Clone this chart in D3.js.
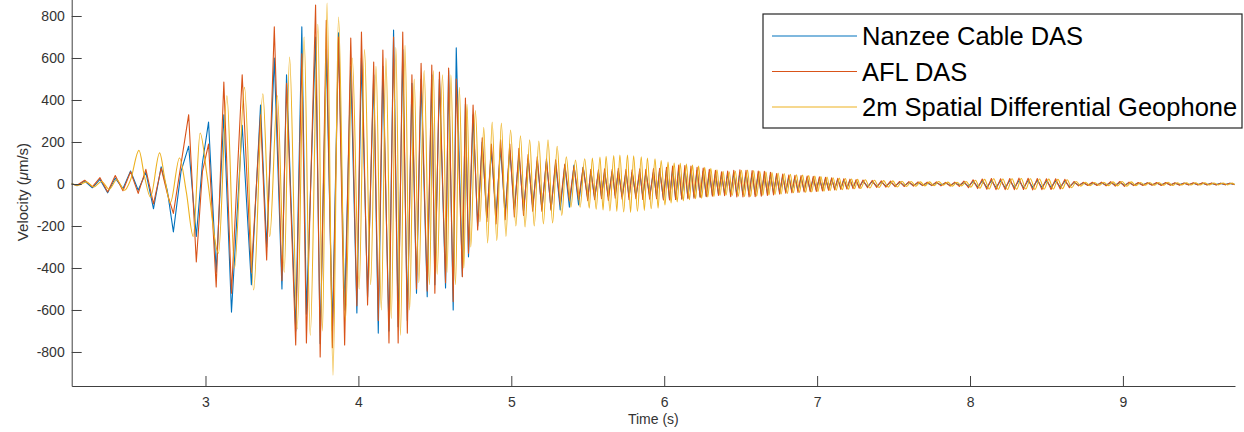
<!DOCTYPE html>
<html>
<head>
<meta charset="utf-8">
<title>DAS vs geophone velocity</title>
<script src="https://d3js.org/d3.v7.min.js"></script>
<style>
  body { margin: 0; background: #fff; }
  text { font-family: "Liberation Sans", Arial, Helvetica, sans-serif; }
</style>
</head>
<body>
<script>
// extrema of the traces (time in s, velocity in um/s)
// the two DAS traces share one time base, the geophone has its own
const timeDas = [
  2.12, 2.16, 2.21, 2.26, 2.31, 2.36, 2.41, 2.46, 2.51, 2.56,
  2.61, 2.66, 2.71, 2.75, 2.79, 2.84, 2.89, 2.94, 2.98, 3.02,
  3.07, 3.12, 3.17, 3.24, 3.30, 3.36, 3.40, 3.45, 3.50, 3.53,
  3.59, 3.63, 3.66, 3.72, 3.75, 3.79, 3.83, 3.87, 3.91, 3.95,
  3.99, 4.02, 4.06, 4.10, 4.13, 4.16, 4.20, 4.23, 4.26, 4.29,
  4.32, 4.35, 4.38, 4.41, 4.45, 4.48, 4.50, 4.53, 4.57, 4.59,
  4.62, 4.64, 4.68, 4.70, 4.72, 4.75, 4.78, 4.81, 4.84, 4.87,
  4.90, 4.93, 4.96, 4.99, 5.02, 5.05, 5.08, 5.11, 5.14, 5.17,
  5.20, 5.23, 5.26, 5.29, 5.32, 5.35, 5.38, 5.41, 5.44, 5.47,
  5.50, 5.52, 5.545, 5.57, 5.59, 5.61, 5.635, 5.66, 5.68, 5.70,
  5.725, 5.75, 5.77, 5.79, 5.815, 5.84, 5.86, 5.88, 5.905, 5.93,
  5.95, 5.97, 5.995, 6.015, 6.035, 6.055, 6.075, 6.095, 6.115, 6.135,
  6.155, 6.175, 6.195, 6.215, 6.235, 6.255, 6.275, 6.295, 6.315, 6.335,
  6.355, 6.375, 6.395, 6.415, 6.435, 6.455, 6.475, 6.495, 6.515, 6.535,
  6.555, 6.575, 6.595, 6.615, 6.635, 6.655, 6.675, 6.695, 6.715, 6.735,
  6.755, 6.775, 6.795, 6.815, 6.835, 6.855, 6.875, 6.895, 6.915, 6.935,
  6.955, 6.975, 6.995, 7.015, 7.035, 7.055, 7.075, 7.095, 7.115, 7.135,
  7.155, 7.175, 7.195, 7.215, 7.235, 7.255, 7.275, 7.30, 7.33, 7.36,
  7.39, 7.42, 7.45, 7.48, 7.51, 7.54, 7.57, 7.60, 7.63, 7.66,
  7.69, 7.72, 7.75, 7.78, 7.81, 7.84, 7.87, 7.90, 7.93, 7.96,
  7.99, 8.02, 8.05, 8.08, 8.11, 8.14, 8.17, 8.20, 8.23, 8.26,
  8.29, 8.32, 8.35, 8.38, 8.41, 8.44, 8.47, 8.50, 8.53, 8.56,
  8.59, 8.62, 8.65, 8.68, 8.71, 8.74, 8.77, 8.80, 8.83, 8.86,
  8.89, 8.92, 8.95, 8.98, 9.01, 9.04, 9.07, 9.10, 9.13, 9.16,
  9.19, 9.22, 9.25, 9.28, 9.31, 9.34, 9.37, 9.40, 9.43, 9.46,
  9.49, 9.52, 9.55, 9.58, 9.61, 9.64, 9.67, 9.70, 9.73
];

const timeGeo = [
  2.12, 2.17, 2.22, 2.27, 2.32, 2.37, 2.42, 2.47, 2.51, 2.565,
  2.60, 2.64, 2.70, 2.735, 2.77, 2.83, 2.875, 2.92, 2.965, 3.01,
  3.085, 3.14, 3.19, 3.255, 3.315, 3.375, 3.42, 3.47, 3.515, 3.55,
  3.60, 3.645, 3.685, 3.735, 3.765, 3.795, 3.834, 3.87, 3.915, 3.96,
  4.005, 4.04, 4.08, 4.115, 4.15, 4.18, 4.215, 4.245, 4.275, 4.305,
  4.335, 4.365, 4.395, 4.43, 4.465, 4.49, 4.515, 4.55, 4.58, 4.605,
  4.635, 4.66, 4.69, 4.71, 4.735, 4.765, 4.795, 4.82, 4.845, 4.875,
  4.905, 4.935, 4.965, 4.995, 5.03, 5.06, 5.09, 5.12, 5.15, 5.18,
  5.21, 5.24, 5.27, 5.30, 5.33, 5.36, 5.39, 5.42, 5.45, 5.48,
  5.51, 5.53, 5.555, 5.58, 5.60, 5.62, 5.645, 5.67, 5.69, 5.71,
  5.735, 5.76, 5.78, 5.80, 5.825, 5.85, 5.87, 5.89, 5.915, 5.94,
  5.96, 5.98, 6.005, 6.025, 6.045, 6.065, 6.085, 6.105, 6.125, 6.145,
  6.165, 6.185, 6.205, 6.225, 6.245, 6.265, 6.285, 6.305, 6.325, 6.345,
  6.365, 6.385, 6.405, 6.425, 6.445, 6.465, 6.485, 6.505, 6.525, 6.545,
  6.565, 6.585, 6.605, 6.625, 6.645, 6.665, 6.685, 6.705, 6.725, 6.745,
  6.765, 6.785, 6.805, 6.825, 6.845, 6.865, 6.885, 6.905, 6.925, 6.945,
  6.965, 6.985, 7.005, 7.025, 7.045, 7.065, 7.085, 7.105, 7.125, 7.145,
  7.165, 7.185, 7.205, 7.225, 7.245, 7.265, 7.285, 7.315, 7.345, 7.375,
  7.405, 7.435, 7.465, 7.495, 7.525, 7.555, 7.585, 7.615, 7.645, 7.675,
  7.705, 7.735, 7.765, 7.795, 7.825, 7.855, 7.885, 7.915, 7.945, 7.975,
  8.005, 8.035, 8.065, 8.095, 8.125, 8.155, 8.185, 8.215, 8.245, 8.275,
  8.305, 8.335, 8.365, 8.395, 8.425, 8.455, 8.485, 8.515, 8.545, 8.575,
  8.605, 8.635, 8.665, 8.695, 8.725, 8.755, 8.785, 8.815, 8.845, 8.875,
  8.905, 8.935, 8.965, 8.995, 9.025, 9.055, 9.085, 9.115, 9.145, 9.175,
  9.205, 9.235, 9.265, 9.295, 9.325, 9.355, 9.385, 9.415, 9.445, 9.475,
  9.505, 9.535, 9.565, 9.595, 9.625, 9.655, 9.685, 9.715, 9.73
];

const nanzee = [
  4, -8, 14, -18, 22, -42, 28, -22, 62, -30,
  55, -118, 82, -30, -228, 60, 180, -250, 100, 295,
  -420, 330, -610, 280, -480, 376, -300, 600, -500, 520,
  -700, 748, -620, 700, -760, 640, -700, 720, -600, 560,
  -614, 600, -540, 520, -710, 560, -700, 733, -680, 640,
  -650, 480, -520, 500, -537, 520, -480, 500, -495, 540,
  -600, 648, -440, 380, -347, 330, -200, 200, -160, 160,
  -150, 170, -140, 160, -120, 140, -130, 120, -110, 110,
  -120, 110, -120, 100, -124, 90, -110, 90, -100, 80,
  -70, 60, -65, 55, -60, 58, -62, 60, -55, 62,
  -60, 58, -62, 55, -58, 56, -60, 55, -57, 58,
  -62, 65, -70, 68, -72, 70, -74, 72, -70, 70,
  -65, 68, -62, 65, -60, 62, -58, 55, -52, 50,
  -48, 45, -46, 50, -50, 55, -52, 55, -50, 52,
  -52, 50, -50, 48, -48, 46, -45, 44, -42, 42,
  -40, 38, -36, 35, -34, 33, -32, 32, -30, 30,
  -30, 28, -28, 27, -26, 25, -24, 23, -22, 22,
  -20, 20, -19, 18, -17, 16, -15, 14, -13, 12,
  -11, 10, -10, 9, -9, 8, -8, 7, -7, 6,
  -6, 5, -6, 6, -5, 5, -6, 5, -5, 6,
  -10, 12, -14, 15, -16, 16, -17, 16, -18, 17,
  -17, 16, -18, 17, -16, 17, -16, 15, -16, 15,
  -15, 14, -12, 8, -6, 5, -5, 4, -4, 5,
  -5, 6, -5, 7, -6, 6, -5, 4, -4, 5,
  -4, 4, -4, 5, -4, 4, -3, 4, -3, 4,
  -3, 4, -3, 3, -3, 3, -3, 3, -2
];

const afl = [
  0, -6, 18, -14, 30, -38, 40, -32, 58, -45,
  70, -95, 75, -45, -140, 95, 330, -371, 60, 190,
  -490, 486, -520, 520, -420, 330, -362, 748, -460, 480,
  -767, 620, -757, 852, -824, 780, -780, 700, -767, 695,
  -580, 724, -576, 581, -650, 638, -757, 700, -757, 724,
  -710, 520, -500, 575, -510, 566, -520, 533, -470, 552,
  -560, 500, -442, 409, -330, 376, -219, 220, -180, 190,
  -190, 210, -170, 190, -157, 170, -150, 140, -130, 130,
  -130, 120, -125, 115, -100, 95, -80, 85, -75, 80,
  -80, 70, -75, 68, -70, 72, -78, 70, -68, 75,
  -72, 70, -75, 68, -70, 72, -74, 70, -72, 74,
  -70, 75, -76, 80, -76, 85, -74, 90, -72, 88,
  -70, 85, -68, 80, -64, 76, -60, 70, -58, 65,
  -55, 58, -56, 62, -60, 65, -62, 67, -62, 65,
  -62, 64, -60, 62, -58, 60, -55, 56, -52, 50,
  -48, 47, -44, 43, -42, 41, -40, 40, -38, 38,
  -37, 36, -35, 34, -33, 32, -30, 29, -28, 27,
  -26, 25, -24, 23, -22, 21, -20, 19, -18, 17,
  -16, 15, -15, 14, -13, 12, -12, 11, -10, 10,
  -8, 9, -8, 10, -9, 8, -10, 9, -11, 14,
  -18, 20, -22, 24, -25, 26, -27, 25, -27, 26,
  -27, 28, -26, 27, -28, 26, -27, 25, -26, 25,
  -24, 22, -18, 12, -9, 8, -7, 8, -7, 9,
  -9, 11, -10, 12, -11, 9, -8, 7, -7, 6,
  -6, 7, -7, 7, -6, 6, -6, 5, -5, 6,
  -5, 6, -5, 5, -5, 4, -4, 4, -3
];

const geophone = [
  2, -6, 10, -14, 12, -25, 20, -30, 20, 160,
  40, -62, 148, 20, -90, 124, -40, -250, 243, 40,
  -330, 420, -400, 460, -505, 430, -250, 420, -420, 605,
  -690, 700, -720, 760, -700, 862, -910, 795, -650, 600,
  -500, 640, -480, 560, -600, 600, -640, 650, -720, 660,
  -600, 500, -470, 540, -480, 540, -430, 520, -420, 520,
  -480, 460, -400, 380, -300, 350, -180, 270, -281, 295,
  -270, 290, -250, 257, -200, 230, -205, 210, -200, 205,
  -190, 210, -186, 180, -150, 130, -110, 114, -110, 120,
  -115, 124, -120, 128, -124, 132, -128, 135, -130, 138,
  -133, 138, -135, 134, -130, 130, -126, 124, -118, 120,
  -115, 112, -100, 105, -90, 100, -85, 98, -80, 95,
  -75, 90, -70, 85, -68, 80, -62, 75, -60, 68,
  -55, 60, -52, 58, -55, 62, -58, 65, -60, 66,
  -60, 64, -58, 60, -55, 58, -52, 55, -50, 52,
  -48, 50, -45, 46, -42, 44, -40, 42, -40, 40,
  -38, 38, -36, 35, -34, 33, -32, 30, -30, 28,
  -27, 26, -25, 24, -23, 22, -21, 20, -19, 18,
  -17, 16, -15, 15, -14, 13, -12, 12, -11, 10,
  -9, 10, -8, 12, -6, 9, -10, 8, -9, 12,
  -15, 18, -20, 22, -24, 25, -25, 24, -26, 25,
  -25, 26, -24, 25, -26, 24, -25, 23, -24, 22,
  -22, 20, -18, 12, -10, 8, -8, 7, -6, 8,
  -8, 10, -9, 12, -11, 10, -8, 7, -6, 7,
  -6, 7, -6, 8, -7, 6, -5, 6, -5, 6,
  -5, 6, -5, 5, -4, 5, -4, 5, -3
];

const seriesNames = ["Nanzee Cable DAS", "AFL DAS", "2m Spatial Differential Geophone"];
const xTicks = [3, 4, 5, 6, 7, 8, 9];
const yTicks = [-800, -600, -400, -200, 0, 200, 400, 600, 800];

const WIDTH = 1244;
const HEIGHT = 432;
const colors = ["#0072BD", "#D95319", "#EDB120"];
const axisColor = "#404040";

const svg = d3.select("body").append("svg")
    .attr("width", WIDTH)
    .attr("height", HEIGHT)
    .style("display", "block");

// plot box (top is cut off in the original figure)
const margin = {left: 71.7, right: 9, top: -5, bottom: 46};
const x = d3.scaleLinear().domain([2.125, 9.733]).range([margin.left, WIDTH - margin.right]);
const y = d3.scaleLinear().domain([-962, 900]).range([HEIGHT - margin.bottom, margin.top]);

svg.append("clipPath").attr("id", "plotclip")
  .append("rect")
    .attr("x", x.range()[0]).attr("y", 0)
    .attr("width", x.range()[1] - x.range()[0])
    .attr("height", y.range()[0]);

// traces, drawn in MATLAB order so the geophone ends up on top
const traces = [
  {t: timeDas, v: nanzee, curve: d3.curveLinear},
  {t: timeDas, v: afl, curve: d3.curveLinear},
  {t: timeGeo, v: geophone, curve: d3.curveMonotoneX}
];

const g = svg.append("g").attr("clip-path", "url(#plotclip)");
traces.forEach((s, k) => {
  const pts = d3.zip(s.t, s.v);
  const line = d3.line().x(d => x(d[0])).y(d => y(d[1])).curve(s.curve);
  g.append("path")
    .datum(pts)
    .attr("fill", "none")
    .attr("stroke", colors[k])
    .attr("stroke-width", 1.1)
    .attr("stroke-linejoin", "round")
    .attr("d", line);
});

// axes with inward ticks
const xAxis = d3.axisBottom(x).tickValues(xTicks).tickSizeInner(-10).tickSizeOuter(0)
    .tickPadding(11).tickFormat(d => String(d));
const yAxis = d3.axisLeft(y).tickValues(yTicks).tickSizeInner(-10).tickSizeOuter(0)
    .tickPadding(7).tickFormat(d => String(d));

const gx = svg.append("g")
    .attr("transform", "translate(0," + y.range()[0] + ")")
    .call(xAxis);
const gy = svg.append("g")
    .attr("transform", "translate(" + margin.left + ",0)")
    .call(yAxis);

[gx, gy].forEach(a => {
  a.select(".domain").attr("stroke", axisColor);
  a.selectAll(".tick line").attr("stroke", axisColor);
  a.selectAll(".tick text")
    .attr("fill", "#333")
    .style("font-size", "14px")
    .style("font-family", "'Liberation Sans', Arial, sans-serif");
});

// axis labels
svg.append("text")
    .attr("x", (x.range()[0] + x.range()[1]) / 2)
    .attr("y", 424)
    .attr("text-anchor", "middle")
    .attr("fill", "#333")
    .style("font-size", "14px")
    .text("Time (s)");

const ylab = svg.append("text")
    .attr("transform", "translate(28,192) rotate(-90)")
    .attr("text-anchor", "middle")
    .attr("fill", "#333")
    .style("font-size", "15px");
ylab.append("tspan").text("Velocity (");
ylab.append("tspan").style("font-style", "italic").text("\u03bc");
ylab.append("tspan").text("m/s)");

// legend box
const legend = svg.append("g");
legend.append("rect")
    .attr("x", 763).attr("y", 14)
    .attr("width", 479).attr("height", 114)
    .attr("fill", "#fff")
    .attr("stroke", "#262626")
    .attr("stroke-width", 1.2);

const rowY = [36, 71.5, 107];
seriesNames.forEach((name, k) => {
  legend.append("line")
    .attr("x1", 772).attr("x2", 857)
    .attr("y1", rowY[k]).attr("y2", rowY[k])
    .attr("stroke", colors[k])
    .attr("stroke-width", 1.2);
  legend.append("text")
    .attr("x", 862)
    .attr("y", rowY[k] + 9)
    .attr("fill", "#000")
    .style("font-size", "25.5px")
    .text(name);
});
</script>
</body>
</html>
